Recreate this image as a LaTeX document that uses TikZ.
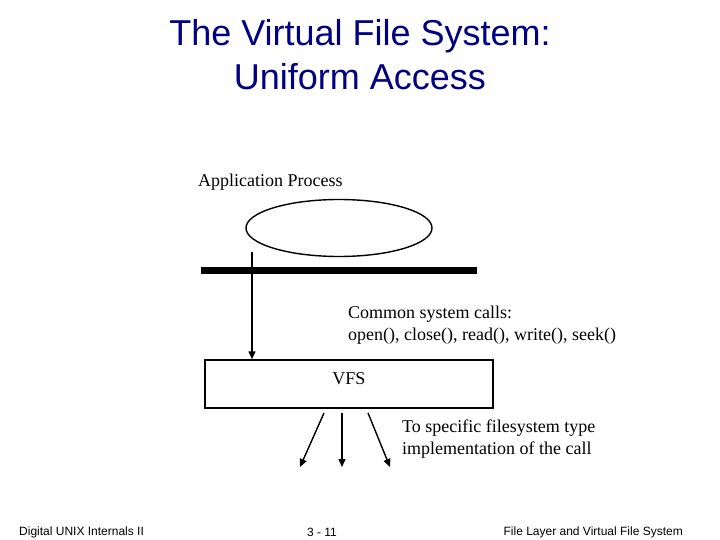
\documentclass[tikz,border=0pt]{standalone}
\usepackage{fontspec}
\setmainfont{Liberation Serif}
\newfontfamily\arialfont{Liberation Sans}
\usetikzlibrary{positioning,calc,arrows.meta,shapes.geometric}
\definecolor{titleNavy}{RGB}{0,0,128}

\begin{document}
\begin{tikzpicture}[
  x=1pt,y=-1pt,
  title/.style={font=\arialfont\fontsize{36}{44}\selectfont,text=titleNavy,align=center},
  body/.style={font=\fontsize{18}{22}\selectfont,align=left,inner sep=0pt},
  foot/.style={font=\arialfont\fontsize{12}{13}\selectfont,inner sep=0pt},
  proc/.style={draw,ellipse,line width=1.4pt,minimum width=186pt,minimum height=57pt,inner sep=0pt},
  bar/.style={fill=black,minimum width=276pt,minimum height=7pt,inner sep=0pt},
  vfsbox/.style={draw,line width=1.4pt,minimum width=288pt,minimum height=48pt,inner sep=0pt},
  tr/.style={-{Triangle[length=8pt,width=7pt]},line width=1.4pt}
]
\useasboundingbox (0,0) rectangle (720,540);

% ==========  title  ==========
\node[title] (ttl) at (360,55) {The Virtual File System:\\Uniform Access};

% ==========  application layer  ==========
\node[body,anchor=west] (appl) at (198,182) {Application Process};
\node[proc] (app) at (339,228) {};
\node[bar] (sys) at (339,270) {};

% ==========  VFS layer  ==========
\node[vfsbox,label={[font=\fontsize{18}{22}\selectfont,yshift=5pt]center:VFS}] (vfs) at (349,384) {};

\node[body,anchor=west] (calls) at (348,325)
  {Common system calls:\\open(), close(), read(), write(), seek()};

\coordinate (callTop) at (252,252);
\draw[tr] (callTop) -- (callTop |- vfs.north);

% ==========  down to specific filesystems  ==========
\foreach \sx/\ex [count=\i] in {324/300,342/342,368/390}{
  \coordinate (fs\i s) at (\sx,413);
  \coordinate (fs\i e) at (\ex,467);
  \draw[tr] (fs\i s) -- (fs\i e);
}
\node[body,anchor=west] (impl) at (402,439)
  {To specific filesystem type\\implementation of the call};

% ==========  footer  ==========
\node[foot,anchor=west] (ftl) at (19,532) {Digital UNIX Internals II};
\node[foot] (ftc) at (322,532) {3 - 11};
\node[foot,anchor=east] (ftr) at (683,532) {File Layer and Virtual File System};

\end{tikzpicture}
\end{document}
